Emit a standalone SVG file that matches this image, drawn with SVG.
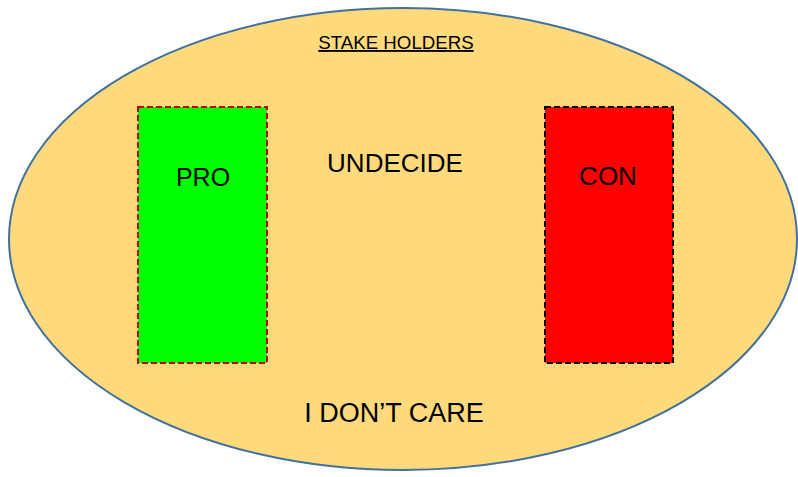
<svg xmlns="http://www.w3.org/2000/svg" width="798" height="477" viewBox="0 0 798 477">
<style>
text{font-family:"Liberation Sans",Arial,sans-serif;fill:#000;text-anchor:middle}
.box{stroke-width:2;stroke-dasharray:6 3}
</style>
<rect width="798" height="477" fill="#fff"/>
<g id="stakeholders">
<ellipse cx="403" cy="239" rx="394" ry="231" fill="#FFDA7D" stroke="#41719C" stroke-width="2"/>
<text x="396" y="49" font-size="18.7" text-decoration="underline">STAKE HOLDERS</text>
</g>
<g id="pro">
<rect class="box" x="138" y="107" width="129" height="256" fill="#00FF00" stroke="#C00000"/>
<text x="203" y="186" font-size="25">PRO</text>
</g>
<g id="undecide">
<text x="395" y="172" font-size="26">UNDECIDE</text>
</g>
<g id="con">
<rect class="box" x="545" y="107" width="128" height="256" fill="#FF0000" stroke="#000"/>
<text x="608" y="185" font-size="26">CON</text>
</g>
<g id="dontcare">
<text x="394" y="422" font-size="27">I DON’T CARE</text>
</g>
<g id="connectors"/>
</svg>
